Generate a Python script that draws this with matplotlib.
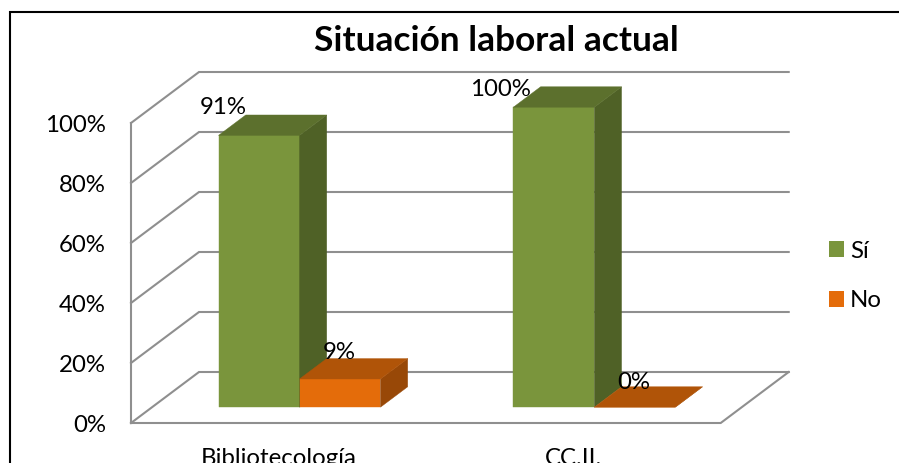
import matplotlib
matplotlib.use("Agg")
import matplotlib.pyplot as plt
from matplotlib.lines import Line2D
from matplotlib.patches import Patch, Polygon

categories = ["Bibliotecología", "CC.II."]
series_names = ["Sí", "No"]
si_values = [90.6, 100]
no_values = [9.4, 0]
si_labels = ["91%", "100%"]
no_labels = ["9%", "0%"]
y_ticks = [0, 20, 40, 60, 80, 100]
y_tick_labels = ["0%", "20%", "40%", "60%", "80%", "100%"]

W, H = 899, 463
LEFT, RIGHT, BOTTOM, TOP = 131, 720.7, 423, 123  # plot box in pixels

# oblique "3d" look: full depth of the floor, in data units
DEPTH_X = 68 / (RIGHT - LEFT) * len(categories)
DEPTH_Y = 51 / (BOTTOM - TOP) * 100
BAR_W = 0.2746
BAR_D0, BAR_D1 = 0.31, 0.71

GRID = "#8f8f8f"
SI_COLORS = ("#7a953c", "#4f6126", "#5c702d")  # front, side, top
NO_COLORS = ("#e46c0a", "#984807", "#b05408")

plt.rcParams["font.family"] = ["Lato", "DejaVu Sans"]
FONT = 17.3


def proj(x, y, d):
    return x + d * DEPTH_X, y + d * DEPTH_Y


def draw_bar(ax, x, value, colors):
    x2 = x + BAR_W
    front = [proj(x, 0, BAR_D0), proj(x2, 0, BAR_D0), proj(x2, value, BAR_D0), proj(x, value, BAR_D0)]
    side = [proj(x2, 0, BAR_D0), proj(x2, 0, BAR_D1), proj(x2, value, BAR_D1), proj(x2, value, BAR_D0)]
    top = [proj(x, value, BAR_D0), proj(x2, value, BAR_D0), proj(x2, value, BAR_D1), proj(x, value, BAR_D1)]
    for pts, c in zip((front, side, top), colors):
        ax.add_patch(Polygon(pts, closed=True, facecolor=c, edgecolor=c, lw=0.3, clip_on=False, zorder=3))


def label_bar(ax, x, value, text, offset):
    # offset in pixels from the middle of the front top edge, up is positive
    ax.annotate(text, xy=proj(x + BAR_W / 2, value, BAR_D0),
                xytext=(offset[0] * 0.72, offset[1] * 0.72), textcoords="offset points",
                ha="center", va="center_baseline", fontsize=FONT, color="black", zorder=5,
                annotation_clip=False)


fig = plt.figure(figsize=(W / 100, H / 100), dpi=100)
ax = fig.add_axes([LEFT / W, (H - BOTTOM) / H, (RIGHT - LEFT) / W, (BOTTOM - TOP) / H])
ax.set_xlim(0, len(categories))
ax.set_ylim(0, 100)
for s in ax.spines.values():
    s.set_visible(False)
ax.patch.set_visible(False)

n = len(categories)
for t in y_ticks:
    x0, y0 = proj(0, t, 0)
    x1, y1 = proj(0, t, 1)
    x2, y2 = proj(n, t, 1)
    ax.plot([x0, x1, x2], [y0, y1, y2], color=GRID, lw=1.5, clip_on=False, zorder=1, solid_joinstyle="miter")
ax.plot([0, 0], [0, 100], color=GRID, lw=1.5, clip_on=False, zorder=1)
fx, fy = proj(n, 0, 1)
ax.plot([0, n, fx], [0, 0, fy], color=GRID, lw=1.5, clip_on=False, zorder=1, solid_joinstyle="miter")

ax.set_xticks([i + 0.5 for i in range(n)])
ax.set_xticklabels(categories, fontsize=FONT)
ax.set_yticks(y_ticks)
ax.set_yticklabels(y_tick_labels, fontsize=FONT)
ax.tick_params(axis="x", length=0, pad=18)
ax.tick_params(axis="y", length=0, pad=18)

si_off = [(-36, 30), (-53.5, 20)]
no_off = [(-1, 28), (-1.5, 27)]
for i in range(n):
    left = i + 0.5 - BAR_W
    # shift back so the pair is centred once it is pushed to its depth
    draw_bar(ax, left, si_values[i], SI_COLORS)
    draw_bar(ax, left + BAR_W, no_values[i], NO_COLORS)
for i in range(n):
    left = i + 0.5 - BAR_W
    label_bar(ax, left, si_values[i], si_labels[i], si_off[i])
    label_bar(ax, left + BAR_W, no_values[i], no_labels[i], no_off[i])

fig.text(496.5 / W, 1 - 41 / H, "Situación laboral actual", ha="center", va="center",
         fontsize=25.4, fontweight="bold", color="black")

handles = [Patch(facecolor=SI_COLORS[0]), Patch(facecolor=NO_COLORS[0])]
fig.legend(handles, series_names, loc="center left", bbox_to_anchor=(829 / W, 1 - 276 / H), frameon=False,
           fontsize=FONT, handlelength=0.625, handleheight=0.625, handletextpad=0.25, labelspacing=1.2,
           borderpad=0, borderaxespad=0)

# outer frame, runs off the right and bottom of the crop
fig.add_artist(Line2D([10 / W, 10 / W, 1], [0, 1 - 11.5 / H, 1 - 11.5 / H], color="black", lw=1.5,
                      solid_joinstyle="miter"))

fig.savefig("out.png", dpi=100)
